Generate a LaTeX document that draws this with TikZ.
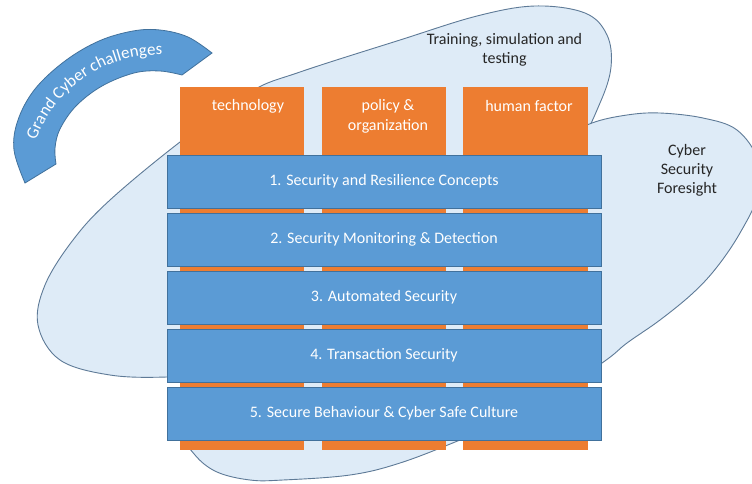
\documentclass[tikz,border=0pt]{standalone}
\usepackage{fontspec}
\setmainfont{Carlito}
\usetikzlibrary{decorations.text}
\definecolor{barblue}{HTML}{5B9BD5}
\definecolor{barline}{HTML}{41719C}
\definecolor{colorange}{HTML}{ED7D31}
\definecolor{paleblue}{HTML}{DEEBF7}
\definecolor{paleline}{HTML}{5E7A97}
\begin{document}
\begin{tikzpicture}[x=1pt,y=-1pt,
  bar/.style={draw=barline, line width=0.8pt, fill=barblue, minimum width=434pt, minimum height=53pt, inner sep=0pt, text=white, font=\fontsize{16}{19}\selectfont},
  pillar/.style={fill=colorange, minimum width=124pt, minimum height=363pt, inner sep=0pt},
  pillarlabel/.style={text=white, align=center, font=\fontsize{16}{20}\selectfont},
  pale/.style={fill=paleblue, draw=paleline, line width=0.9pt},
  palelabel/.style={text=black!85, align=center, font=\fontsize{16}{19}\selectfont},
  gcarc/.style={fill=barblue, draw=barline, line width=0.8pt}]
\clip (0,0) rectangle (752,483);
\fill[white] (0,0) rectangle (752,483);
% Training, simulation and testing shape
\draw[pale] plot[smooth cycle, tension=0.6] coordinates {(167,377) (110,375) (60,360) (38,325) (45,285) (73,240) (110,200) (180,142) (250,92) (300,72) (400,40) (477,16) (535,6) (585,13) (607,35) (611,67) (600,103) (575,150) (520,210) (420,290) (300,350) (220,372)};
% Cyber Security Foresight shape
\draw[pale] plot[smooth cycle, tension=0.6] coordinates {(592,123) (627,115) (660,113) (703,118) (737,130) (758,160) (758,195) (740,233) (717,267) (693,293) (660,320) (627,343) (602,363) (530,410) (460,440) (400,463) (350,475) (283,480) (250,480) (217,472) (195,455) (182,430) (200,395) (330,290) (470,190) (560,140)};
% pillars
\node[pillar] (p1) at (242,268.5) {};
\node[pillar] (p2) at (384,268.5) {};
\node[pillar, minimum width=125pt] (p3) at (525.5,268.5) {};
\node[pillarlabel] (l1) at (248,106) {technology};
\node[pillarlabel] (l2) at (388,116) {policy \&\\organization};
\node[pillarlabel] (l3) at (529,106) {human factor};
% bars
\node[bar] (b1) at (384,181.5) {1. Security and Resilience Concepts};
\node[bar] (b2) at (384,239.5) {2. Security Monitoring \& Detection};
\node[bar] (b3) at (384,297.5) {3. Automated Security};
\node[bar] (b4) at (384,355.5) {4. Transaction Security};
\node[bar] (b5) at (384,413.5) {5. Secure Behaviour \& Cyber Safe Culture};
% labels of pale shapes
\node[palelabel] (tst) at (504.5,50) {Training, simulation and\\testing};
\node[palelabel] (csf) at (687,170) {Cyber\\Security\\Foresight};
% Grand Cyber challenges arc
\draw[gcarc] plot[smooth, tension=0.6] coordinates {(25,183) (14,150) (18,120) (35,89) (65,61) (99,41) (133,31) (160,30) (188,37) (212,53)} -- plot[smooth, tension=0.6] coordinates {(182,75) (160,71) (134,73) (102,86) (76,106) (60,129) (55,148) (56,164)} -- cycle;
\path[decorate, decoration={text along path, text align=center, text color=white, text={|\fontsize{17}{20}\selectfont|Grand Cyber challenges}}] (158pt,-185pt) ++(170:130pt) arc[start angle=170, end angle=78, radius=130pt];
\end{tikzpicture}
\end{document}
